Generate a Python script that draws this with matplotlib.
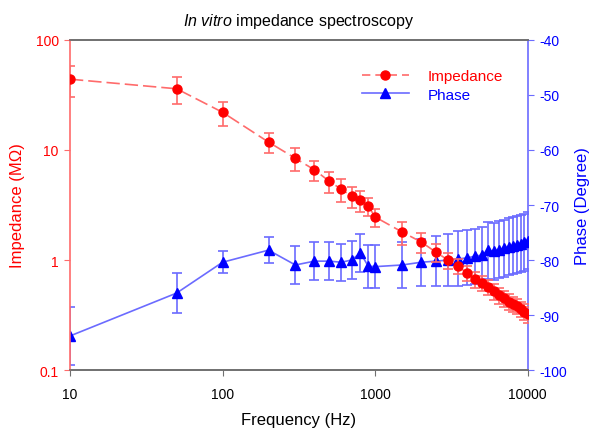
import matplotlib
matplotlib.use("Agg")
import matplotlib.pyplot as plt
from matplotlib.lines import Line2D

plt.rcParams['font.family'] = ['Liberation Sans', 'DejaVu Sans']
plt.rcParams['axes.unicode_minus'] = False
plt.rcParams['mathtext.fontset'] = 'custom'
plt.rcParams['mathtext.rm'] = 'Liberation Sans'
plt.rcParams['mathtext.it'] = 'Liberation Sans:italic'

freq = [10, 50, 100, 200, 300, 400, 500, 600, 700, 800, 900, 1000,
        1500, 2000, 2500, 3000, 3500, 4000, 4500, 5000, 5500, 6000,
        6500, 7000, 7500, 8000, 8500, 9000, 9500, 10000]
impedance = [44, 36, 22, 11.8, 8.4, 6.6, 5.2, 4.4, 3.8, 3.5, 3.1, 2.46,
             1.8, 1.46, 1.18, 1.0, 0.88, 0.76, 0.67, 0.62, 0.57, 0.52,
             0.48, 0.45, 0.42, 0.40, 0.38, 0.36, 0.34, 0.32]
impedance_err = [14, 10, 5.5, 2.4, 2.0, 1.4, 1.1, 1.0, 0.85, 0.78, 0.6, 0.45,
                 0.42, 0.3, 0.22, 0.17, 0.14, 0.12, 0.11, 0.10, 0.09, 0.085,
                 0.08, 0.075, 0.07, 0.065, 0.06, 0.058, 0.055, 0.052]
phase = [-93.8, -86.0, -80.4, -78.2, -80.9, -80.2, -80.2, -80.4, -80.0, -78.7,
         -81.1, -81.2, -80.9, -80.4, -80.2, -80.0, -79.8, -79.6, -79.3, -79.1,
         -78.2, -78.4, -78.1, -77.9, -77.6, -77.4, -77.2, -77.0, -76.8, -76.5]
phase_err = [5.2, 3.7, 2.0, 2.4, 3.4, 3.5, 3.4, 3.4, 3.4, 3.5,
             3.9, 3.9, 4.2, 4.3, 4.5, 4.7, 5.0, 5.0, 5.0, 5.1,
             5.2, 5.2, 5.2, 5.2, 5.2, 5.2, 5.2, 5.2, 5.2, 5.2]

RED = '#ff0000'
LRED = '#ff6b6b'
BLUE = '#0000ff'
LBLUE = '#6b6bff'

fig = plt.figure(figsize=(5.93, 4.31), dpi=100)
ax = fig.add_axes([0.118, 0.139, 0.772, 0.766])
ax2 = ax.twinx()

ax.set_zorder(ax2.get_zorder() + 1)
ax.patch.set_visible(False)

ax.errorbar(freq, impedance, yerr=impedance_err, fmt='none', ecolor=LRED,
            elinewidth=1.2, capsize=3.3, capthick=1.2, zorder=2)
ax.plot(freq, impedance, color=LRED, linestyle=(0, (8, 3)), linewidth=1.2, zorder=3)
ax.plot(freq, impedance, linestyle='none', marker='o', markersize=6.5,
        color=RED, zorder=4)

ax2.errorbar(freq, phase, yerr=phase_err, fmt='none', ecolor=LBLUE,
             elinewidth=1.2, capsize=3.3, capthick=1.2, zorder=2)
ax2.plot(freq, phase, color=LBLUE, linewidth=1.2, zorder=3)
ax2.plot(freq, phase, linestyle='none', marker='^', markersize=6.5,
         color=BLUE, zorder=4)

ax.set_xscale('log')
ax.set_yscale('log')
ax.set_xlim(10, 10000)
ax.set_ylim(0.1, 100)
ax2.set_ylim(-100, -40)

ax.set_xticks([10, 100, 1000, 10000])
ax.set_xticklabels(['10', '100', '1000', '10000'])
ax.xaxis.set_minor_locator(matplotlib.ticker.NullLocator())
ax.set_yticks([0.1, 1, 10, 100])
ax.set_yticklabels(['0.1', '1', '10', '100'])
ax.yaxis.set_minor_locator(matplotlib.ticker.NullLocator())
ax2.set_yticks([-100, -90, -80, -70, -60, -50, -40])

for a in (ax, ax2):
    for s in a.spines.values():
        s.set_linewidth(1.2)
ax.spines['left'].set_color(LRED)
ax.spines['right'].set_visible(False)
ax2.spines['right'].set_color(LBLUE)
ax2.spines['left'].set_visible(False)
for a in (ax, ax2):
    a.spines['top'].set_color('#707070')
    a.spines['bottom'].set_color('#707070')

ax.tick_params(axis='x', direction='out', colors='#707070', labelcolor='black',
               labelsize=10, length=4, pad=8)
ax.tick_params(axis='y', direction='out', colors=LRED, labelcolor=RED,
               labelsize=10, length=4, pad=4)
ax2.tick_params(axis='y', direction='out', colors=LBLUE, labelcolor=BLUE,
                labelsize=10, length=4, pad=4)

ax.set_xlabel('Frequency (Hz)', fontsize=12, labelpad=8)
ax.set_ylabel('Impedance (MΩ)', fontsize=12, color=RED, labelpad=8)
ax2.set_ylabel('Phase (Degree)', fontsize=12, color=BLUE, labelpad=6)

ax.set_title(r'$\mathit{In\ vitro}$ impedance spectroscopy', fontsize=11.5, pad=11)

handles = [Line2D([], [], color=LRED, linestyle=(0, (5, 3)), linewidth=1.2,
                  marker='o', markersize=6.5, markerfacecolor=RED, markeredgecolor=RED),
           Line2D([], [], color=LBLUE, linewidth=1.2, marker='^', markersize=6.5,
                  markerfacecolor=BLUE, markeredgecolor=BLUE)]
leg = ax.legend(handles, ['Impedance', 'Phase'], loc='upper left',
                bbox_to_anchor=(0.624, 0.93), frameon=False, fontsize=11,
                handlelength=3.1, labelspacing=0.3, handletextpad=1.2,
                borderaxespad=0)
leg.get_texts()[0].set_color(RED)
leg.get_texts()[1].set_color(BLUE)

fig.savefig('out.png', dpi=100)
